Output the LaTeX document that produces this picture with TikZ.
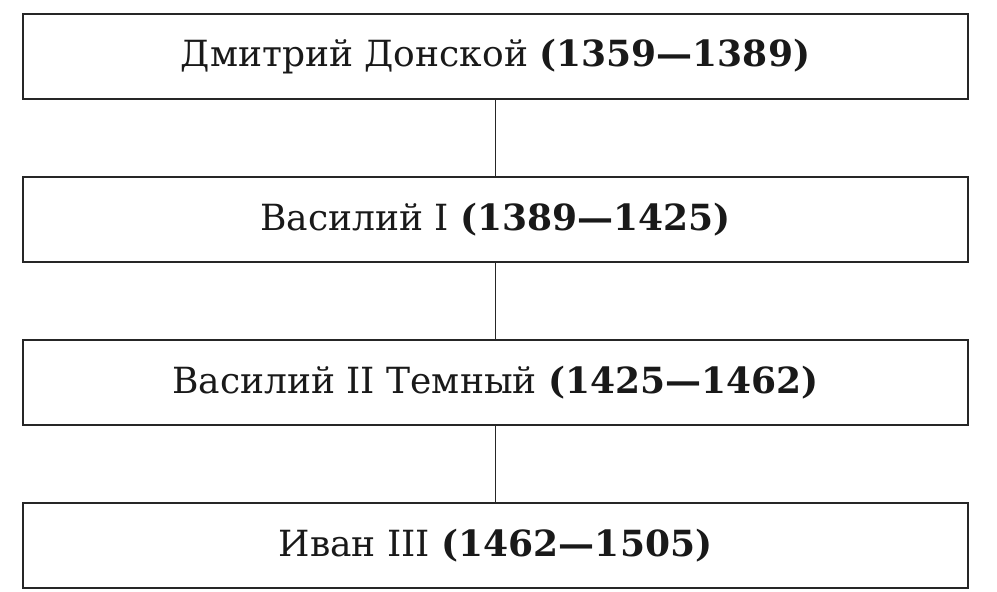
\documentclass[tikz,border=0pt]{standalone}
\usepackage{fontspec}
\setmainfont{DejaVu Serif}
\usetikzlibrary{positioning}

\begin{document}
\begin{tikzpicture}[node distance=1.52cm,line width=1.1pt,
                    main node/.style={rectangle,draw=black!85,text=black!90,minimum width=18.9cm,minimum height=1.7cm,
                                      inner sep=0pt,font=\fontsize{20.5}{22}\selectfont}]
      \useasboundingbox (0,0) rectangle (19.94,-11.84);

      \node[main node] (1) at (9.91,-1.13) {Дмитрий Донской \textbf{(1359—1389)}};
      \node[main node] (2) [below=of 1] {Василий I \textbf{(1389—1425)}};
      \node[main node] (3) [below=of 2] {Василий II Темный \textbf{(1425—1462)}};
      \node[main node] (4) [below=of 3] {Иван III \textbf{(1462—1505)}};
      \path[draw=black!85]
        (1) edge (2)
        (2) edge (3)
        (3) edge (4);
    \end{tikzpicture}
\end{document}
